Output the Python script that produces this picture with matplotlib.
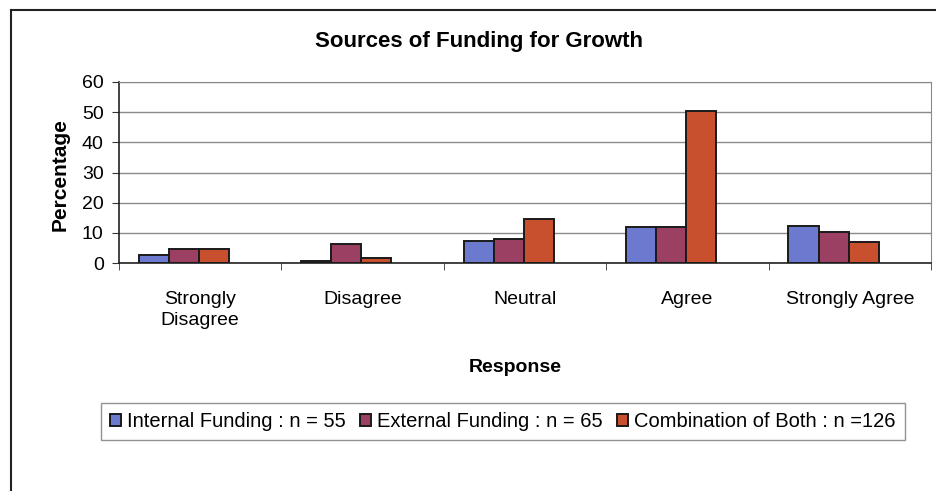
import numpy as np
import matplotlib.pyplot as plt
from matplotlib.lines import Line2D

plt.rcParams['font.family'] = ['Liberation Sans', 'DejaVu Sans']

categories = ["Strongly\nDisagree", "Disagree", "Neutral", "Agree", "Strongly Agree"]
internal = [2.7, 0.5, 7.3, 11.8, 12.4]
external = [4.6, 6.4, 7.8, 11.8, 10.2]
combined = [4.6, 1.6, 14.6, 50.3, 7.1]
series_names = ["Internal Funding : n = 55", "External Funding : n = 65",
                "Combination of Both : n =126"]
colors = ["#6B79CF", "#9B3F63", "#C9502F"]

fig = plt.figure(figsize=(9.36, 4.97), dpi=100)
ax = fig.add_axes([119 / 936, 1 - 263 / 497, 812 / 936, 181 / 497])

x = np.arange(len(categories))
w = 0.185
shift = -0.1
for i, (vals, name, c) in enumerate(zip([internal, external, combined], series_names, colors)):
    ax.bar(x + shift + (i - 1) * w, vals, width=w, color=c, edgecolor="#1a1a1a",
           linewidth=1.4, label=name, zorder=3)

ax.set_xlim(-0.5, len(categories) - 0.5)
ax.set_ylim(0, 60)
ax.set_yticks(range(0, 61, 10))
ax.yaxis.grid(True, color="#8a8a8a", linewidth=1.0, zorder=0)
ax.set_axisbelow(True)

# category names in the middle, tick marks on the boundaries
ax.set_xticks(x)
ax.set_xticklabels(categories, fontsize=14, linespacing=1.35)
ax.tick_params(axis="x", which="major", length=0, pad=20)
ax.set_xticks(np.arange(-0.5, len(categories)), minor=True)
ax.tick_params(axis="x", which="minor", length=5, color="#333333", direction="out")
ax.tick_params(axis="y", labelsize=14, length=5, color="#333333", pad=6)

ax.spines["left"].set_color("#222222")
ax.spines["bottom"].set_color("#222222")
ax.spines["top"].set_color("#8a8a8a")
ax.spines["right"].set_color("#8a8a8a")
ax.spines["left"].set_linewidth(1.2)
ax.spines["bottom"].set_linewidth(1.2)

fig.text(479 / 936, 1 - 41 / 497, "Sources of Funding for Growth", ha="center",
         va="center", fontsize=16, fontweight="bold")
fig.text(60 / 936, 1 - 175 / 497, "Percentage", ha="center", va="center",
         rotation=90, fontsize=15, fontweight="bold")
fig.text(515 / 936, 1 - 368 / 497, "Response", ha="center", va="center",
         fontsize=14, fontweight="bold")

leg = fig.legend(loc="center", bbox_to_anchor=(503 / 936, 1 - 421.5 / 497), ncol=3,
                 fontsize=14.5, frameon=True, fancybox=False, edgecolor="#777777",
                 handlelength=0.55, handleheight=0.55, handletextpad=0.3,
                 columnspacing=0.7, borderpad=0.45, borderaxespad=0.3)
leg.get_frame().set_linewidth(1.0)

# outer frame of the chart area
fig.add_artist(Line2D([11 / 936, 11 / 936], [1 - 490 / 497, 1 - 10 / 497],
                      transform=fig.transFigure, color="#222222", linewidth=1.5))
fig.add_artist(Line2D([11 / 936, 1.0], [1 - 10 / 497, 1 - 10 / 497],
                      transform=fig.transFigure, color="#222222", linewidth=1.5))

fig.savefig("out.png", dpi=100)
